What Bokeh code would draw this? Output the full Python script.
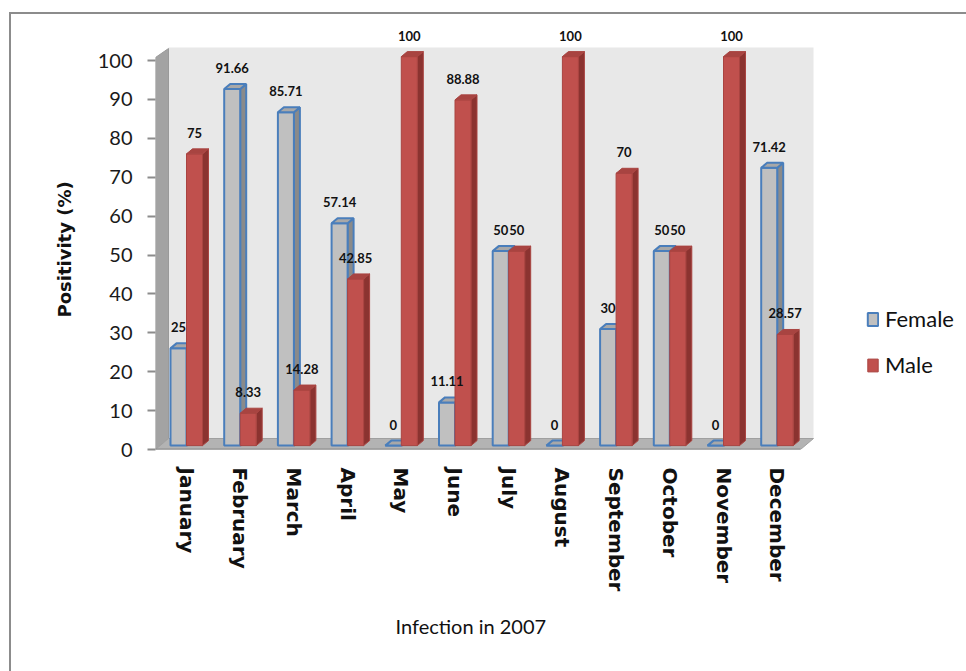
import numpy as np
from bokeh.plotting import figure
from bokeh.models import (ColumnDataSource, FixedTicker, LabelSet, Legend, LegendItem,
                          Range1d, Title, InlineStyleSheet)
from bokeh.core.properties import value
from bokeh.embed import file_html
from bokeh.resources import INLINE

# ---------------- data ----------------
months = ["January", "February", "March", "April", "May", "June", "July",
          "August", "September", "October", "November", "December"]
female = [25, 91.66, 85.71, 57.14, 0, 11.11, 50, 0, 30, 50, 0, 71.42]
male = [75, 8.33, 14.28, 42.85, 100, 88.88, 50, 100, 70, 50, 100, 28.57]
y_ticks = [0, 10, 20, 30, 40, 50, 60, 70, 80, 90, 100]
series_names = ["Female", "Male"]

# ---------------- layout constants ----------------
W, H = 966, 671
FL, FR, FT, FB = 155, 966, 22, 449      # frame edges in pixels
WALL_TOP, WALL_RIGHT = 47, 813           # back wall extent (px)
PX_X = 53.7                              # px per month
PX_Y = 3.89                              # px per percent
x0 = -31 / PX_X
x1 = x0 + (FR - FL) / PX_X
xw = x0 + (WALL_RIGHT - FL) / PX_X
y1 = (FB - FT) / PX_Y
wall_top = (FB - WALL_TOP) / PX_Y

p = figure(width=W, height=H, x_range=Range1d(x0, x1), y_range=Range1d(0, y1),
           output_backend="svg", toolbar_location=None,
           min_border_left=FL, min_border_right=W - FR,
           min_border_top=FT, min_border_bottom=H - FB)
p.background_fill_color = "white"
p.border_fill_color = "white"
p.outline_line_color = None
p.xgrid.visible = False
p.ygrid.visible = False
# outer frame line of the picture (left and top edges visible)
p.stylesheets = [InlineStyleSheet(css=(
    ":host { position: relative; }"
    ":host::after { content: ''; position: absolute; left: 9px; top: 12px;"
    " right: 0px; bottom: 0px; border-left: 2px solid #8c8c8c;"
    " border-top: 2px solid #8c8c8c; pointer-events: none; }"))]

# ---------------- 3D walls ----------------
wall_dx = 13 / PX_X
floor_dy = 11 / PX_Y
p.quad(left=[x0 + wall_dx], right=[xw], bottom=[floor_dy], top=[wall_top],
       fill_color="#e8e8e8", line_color=None)
p.patch([x0, x0, x0 + wall_dx, x0 + wall_dx],
        [0, (FB - 57) / PX_Y, (FB - 48) / PX_Y, floor_dy],
        fill_color="#a3a3a3", line_color="#9a9a9a", line_width=1)
p.patch([x0, xw - wall_dx, xw, x0 + wall_dx], [0, 0, floor_dy, floor_dy],
        fill_color="#b3b3b3", line_color="#a0a0a0", line_width=1)
p.segment(x0=[x0], y0=[0], x1=[xw - wall_dx], y1=[0], line_color="#8c8c8c", line_width=2)

# ---------------- bars ----------------
c = np.arange(len(months), dtype=float)
w = 16 / PX_X
ddx = 6 / PX_X
ddy = 5 / PX_Y
base = 1.0


def bar3d(left, values, front, side, top, edge, lw):
    right = left + w
    tops = base + np.asarray(values, dtype=float)
    side_xs = [[r, r + ddx, r + ddx, r] for r in right]
    side_ys = [[base, base + ddy, t + ddy, t] for t in tops]
    p.patches(side_xs, side_ys, fill_color=side, line_color=edge, line_width=lw)
    fr = p.quad(left=left, right=right, bottom=base, top=tops,
                fill_color=front, line_color=edge, line_width=lw)
    top_xs = [[l, r, r + ddx, l + ddx] for l, r in zip(left, right)]
    top_ys = [[t, t, t + ddy, t + ddy] for t in tops]
    p.patches(top_xs, top_ys, fill_color=top, line_color=edge, line_width=lw)
    return fr


f_r = bar3d(c - w, female, "#c0c0c0", "#8a8a8a", "#a8a8a8", "#4a7ebb", 2)
m_r = bar3d(c, male, "#c0504d", "#8b3330", "#a84441", "#a94441", 1)

# ---------------- data labels ----------------
lab_src = ColumnDataSource(dict(
    x=list(c - w / 2) + list(c + w / 2),
    y=female + male,
    t=["{:g}".format(v) for v in female] + ["{:g}".format(v) for v in male],
))
p.add_layout(LabelSet(x="x", y="y", text="t", source=lab_src, y_offset=25,
                      text_align="center", text_baseline="middle",
                      text_font=value("Lato"), text_font_style="bold",
                      text_font_size="13px", text_color="#111111"))

# ---------------- axes ----------------
ya = p.yaxis[0]
ya.ticker = FixedTicker(ticks=y_ticks)
ya.axis_line_color = None
ya.major_tick_out = 8
ya.major_tick_in = 0
ya.major_tick_line_color = "#8c8c8c"
ya.major_tick_line_width = 2
ya.minor_tick_line_color = None
ya.major_label_text_font = "Lato"
ya.major_label_text_font_size = "20px"
ya.major_label_text_color = "#1a1a1a"
ya.major_label_standoff = 15

p.add_layout(Title(text="Positivity (%)", align="left", offset=132, standoff=40,
                   text_font="DejaVu Sans", text_font_style="bold",
                   text_font_size="18px", text_color="#111111"), "left")

xa = p.xaxis[0]
xa.ticker = FixedTicker(ticks=list(range(len(months))))
xa.major_label_overrides = {i: m for i, m in enumerate(months)}
xa.major_label_orientation = "vertical"
xa.major_label_text_font = "DejaVu Sans"
xa.major_label_text_font_style = "bold"
xa.major_label_text_font_size = "20px"
xa.major_label_text_color = "#111111"
xa.major_label_standoff = 12
xa.major_tick_line_color = None
xa.minor_tick_line_color = None
xa.axis_line_color = None

p.add_layout(Title(text="Infection in 2007", align="left", offset=240, standoff=34,
                   text_font="Lato", text_font_style="normal",
                   text_font_size="20px", text_color="#111111"), "below")

# ---------------- legend ----------------
legend = Legend(items=[LegendItem(label=series_names[0], renderers=[f_r]),
                       LegendItem(label=series_names[1], renderers=[m_r])],
                location=(711, 71), padding=0, margin=0, spacing=19,
                glyph_width=13, glyph_height=16, label_height=26,
                label_standoff=6, label_text_font="Lato",
                label_text_font_size="22px", label_text_color="#111111",
                border_line_color=None, background_fill_color=None)
p.add_layout(legend)

open("out.html", "w").write(file_html(p, INLINE))
